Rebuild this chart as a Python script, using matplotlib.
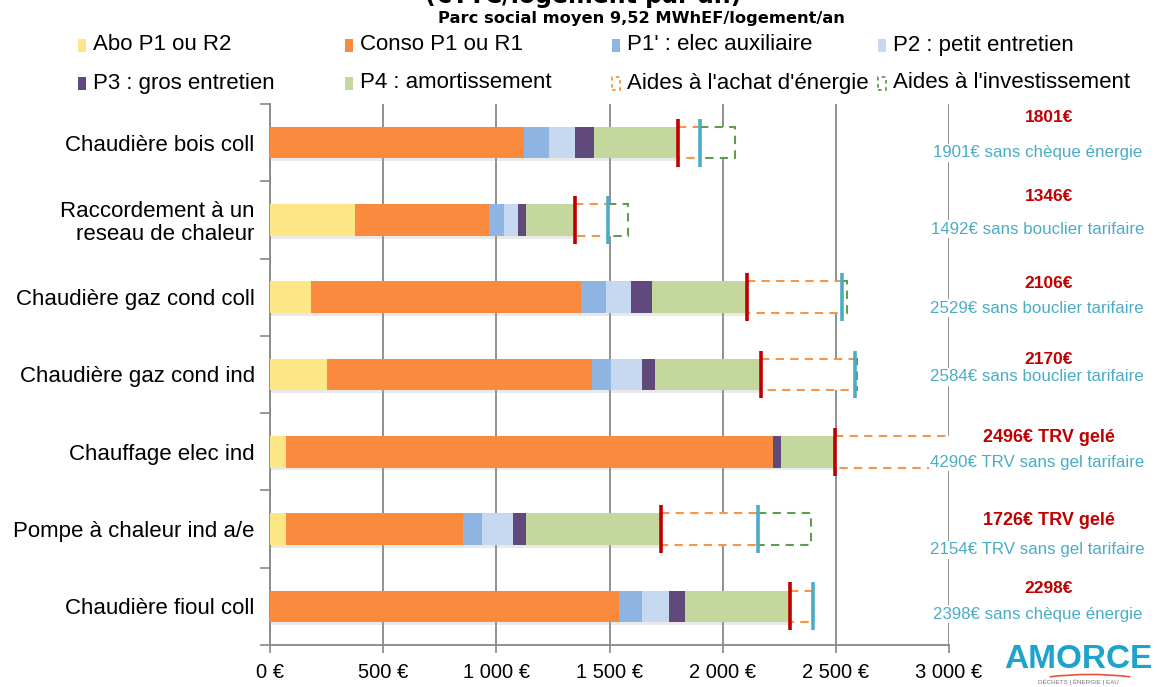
import numpy as np
import matplotlib.pyplot as plt
from matplotlib.patches import Rectangle, Arc
import matplotlib.patheffects as pe

# --- Data (EUR / logement / an) ---
categories = ["Chaudière bois coll", "Raccordement à un\nreseau de chaleur",
              "Chaudière gaz cond coll", "Chaudière gaz cond ind",
              "Chauffage elec ind", "Pompe à chaleur ind a/e",
              "Chaudière fioul coll"]
abo = [0, 375, 181, 250, 69, 69, 0]
conso = [1121, 592, 1192, 1172, 2152, 783, 1541]
p1_elec = [112, 66, 113, 84, 0, 83, 104]
p2_petit = [114, 62, 111, 139, 0, 139, 118]
p3_gros = [83, 35, 91, 56, 36, 56, 71]
p4_amort = [371, 216, 418, 469, 239, 596, 464]
aide_energie = [100, 146, 423, 414, 1794, 428, 100]
aide_invest = [152, 89, 20, 10, 0, 235, 0]
cout_net = [1801, 1346, 2106, 2170, 2496, 1726, 2298]
cout_sans_aide = [1901, 1492, 2529, 2584, 4290, 2154, 2398]

red_labels = ["1801€", "1346€", "2106€", "2170€", "2496€ TRV gelé",
              "1726€ TRV gelé", "2298€"]
blue_labels = ["1901€ sans chèque énergie", "1492€ sans bouclier tarifaire",
               "2529€ sans bouclier tarifaire", "2584€ sans bouclier tarifaire",
               "4290€ TRV sans gel tarifaire", "2154€ TRV sans gel tarifaire",
               "2398€ sans chèque énergie"]
xticks = [0, 500, 1000, 1500, 2000, 2500, 3000]
xtick_labels = ["0 €", "500 €", "1 000 €", "1 500 €", "2 000 €", "2 500 €", "3 000 €"]

# --- Style ---
COLORS = ['#FDE686', '#F98A3E', '#8EB4E2', '#C7D9F0', '#604A7B', '#C4D79C']
SERIES_NAMES = ["Abo P1 ou R2", "Conso P1 ou R1", "P1' : elec auxiliaire",
                "P2 : petit entretien", "P3 : gros entretien", "P4 : amortissement"]
ORANGE_DASH = '#F79646'
GREEN_DASH = '#5E9E4E'
RED = '#C00000'
BLUE = '#4BACC6'
GRID = '#888888'
FONT = 'Liberation Sans'

plt.rcParams['font.family'] = [FONT, 'DejaVu Sans']

fig = plt.figure(figsize=(11.57, 6.87), dpi=100)
ax = fig.add_axes([270 / 1157, 1 - 645 / 687, (949 - 270) / 1157, (645 - 104) / 687])

y = np.arange(len(categories))
bar_h = 0.41
shadow = [pe.SimplePatchShadow(offset=(1, -2), shadow_rgbFace='#aaaaaa', alpha=0.25), pe.Normal()]

left = np.zeros(len(categories))
for vals, col in zip([abo, conso, p1_elec, p2_petit, p3_gros, p4_amort], COLORS):
    vals = np.array(vals, dtype=float)
    bars = ax.barh(y, vals, left=left, height=bar_h, color=col, linewidth=0, zorder=3)
    for b in bars:
        b.set_path_effects(shadow)
    left += vals

# dashed boxes for the subsidies
for i in range(len(categories)):
    if aide_energie[i] > 0:
        ax.barh(y[i], aide_energie[i], left=left[i], height=bar_h, facecolor='white',
                edgecolor=ORANGE_DASH, linestyle=(0, (4, 3)), linewidth=1.5, zorder=3)
    if aide_invest[i] > 0:
        ax.barh(y[i], aide_invest[i], left=left[i] + aide_energie[i], height=bar_h,
                facecolor='white', edgecolor=GREEN_DASH, linestyle=(0, (4, 3)),
                linewidth=1.5, zorder=3)

# markers for net cost and cost without aid
ax.vlines(cout_net, y - 0.31, y + 0.31, color=RED, linewidth=2.6, zorder=5)
ax.vlines(cout_sans_aide, y - 0.31, y + 0.31, color=BLUE, linewidth=2.6, zorder=5)

ax.set_xlim(0, 3000)
ax.set_ylim(len(categories) - 0.5, -0.5)

ax.set_xticks(xticks)
ax.set_xticklabels(xtick_labels, fontsize=14.5)
ax.set_yticks(y)
ax.set_yticklabels(categories, fontsize=16, linespacing=1.1)
ax.set_yticks(np.arange(-0.5, len(categories), 1), minor=True)
ax.tick_params(axis='y', which='major', length=0, pad=11)
ax.tick_params(axis='y', which='minor', length=7, color=GRID, width=1.2)
ax.tick_params(axis='x', length=6, color=GRID, width=1.2, pad=7)

ax.xaxis.grid(True, color=GRID, linewidth=1.3)
ax.set_axisbelow(True)
for s in ['top', 'right']:
    ax.spines[s].set_visible(False)
for s in ['left', 'bottom']:
    ax.spines[s].set_color(GRID)
    ax.spines[s].set_linewidth(1.3)

# right-hand annotations
red_off = [-0.32, -0.30, -0.18, -0.19, -0.19, -0.11, -0.23]
blue_off = [0.13, 0.12, 0.14, 0.03, 0.14, 0.27, 0.10]
for i in range(len(categories)):
    long_lab = len(red_labels[i]) > 6
    ax.text(3440, y[i] + red_off[i], red_labels[i], color=RED,
            fontsize=13 if long_lab else 12.5, fontweight='bold',
            family=['Liberation Sans'] if long_lab else ['Liberation Sans Narrow', 'Liberation Sans'],
            ha='center', va='center', clip_on=False, zorder=6,
            bbox=dict(facecolor='white', edgecolor='none', pad=1))
    ax.text(3390, y[i] + blue_off[i], blue_labels[i], color=BLUE, fontsize=12.2,
            ha='center', va='center', clip_on=False, zorder=6,
            bbox=dict(facecolor='white', edgecolor='none', pad=1))

# titles (main title is cut at the top in the source)
fig.text(583 / 1157, 1 - 3 / 687, "(€TTC/logement par an)", fontsize=17,
         fontweight='bold', family='DejaVu Sans', ha='center', va='baseline')
fig.text(641 / 1157, 1 - 19 / 687, "Parc social moyen 9,52 MWhEF/logement/an",
         fontsize=11.7, fontweight='bold', family='DejaVu Sans', ha='center', va='center')

# legend drawn by hand: equal column widths like the original
legend_items = list(zip(SERIES_NAMES, COLORS, ['fill'] * 6))
legend_items += [("Aides à l'achat d'énergie", ORANGE_DASH, 'dash'),
                 ("Aides à l'investissement", GREEN_DASH, 'dash')]
col_x = [78, 345, 612, 878]
row_y = [45, 83]
for k, (name, col, kind) in enumerate(legend_items):
    px = col_x[k % 4]
    py = row_y[k // 4]
    x0 = px / 1157
    y0 = 1 - (py + 7) / 687
    w, h = 8 / 1157, 13 / 687
    if kind == 'fill':
        r = Rectangle((x0, y0), w, h, transform=fig.transFigure, facecolor=col,
                      edgecolor='none')
    else:
        r = Rectangle((x0, y0), w, h, transform=fig.transFigure, facecolor='white',
                      edgecolor=col, linestyle=(0, (2, 2)), linewidth=1.3)
    fig.add_artist(r)
    fig.text((px + 15) / 1157, 1 - py / 687, name, fontsize=16, ha='left', va='center')

# AMORCE logo (approximation)
fig.text(1078 / 1157, 1 - 659 / 687, "AMORCE", fontsize=24, fontweight='bold',
         color='#1EA3CC', ha='center', va='center', stretch='condensed')
fig.add_artist(Arc((1090 / 1157, 1 - 722 / 687), 260 / 1157, 95 / 687, theta1=62,
                   theta2=118, transform=fig.transFigure, color='#E5533D', linewidth=1.2))
fig.text(1078 / 1157, 1 - 682 / 687, "DÉCHETS | ÉNERGIE | EAU", fontsize=4.5,
         color='#777777', ha='center', va='center')

fig.savefig("out.png", dpi=100)
